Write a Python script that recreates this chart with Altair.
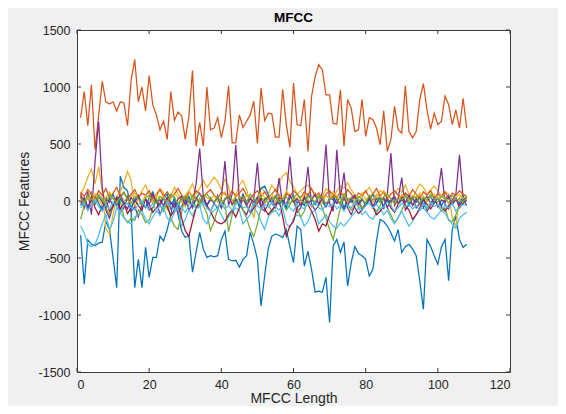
import altair as alt
import pandas as pd

# ---------------- data ----------------
s01 = [-300, -730, -340, -380, -390, -370, -360, -180, -250, -500, -760, 217,
       118, 90, -100, -760, -512, -760, -407, -670, -495, -495, -308, -350,
       -250, -120, 40, -120, -264, -320, -300, -625, -450, -275, -420, -495,
       -480, -490, -480, -337, -264, -512, -526, -520, -580, -512, -480, -275,
       -380, -512, -920, -658, -420, -308, -290, -300, -320, -250, -400, -540,
       -220, -250, -570, -440, -600, -800, -790, -800, -670, -1065, -395, -337,
       -452, -360, -745, -540, -400, -460, -480, -512, -658, -600, -350, -162,
       -180, -220, -280, -350, -250, -452, -400, -380, -420, -480, -700, -950,
       -337, -400, -480, -555, -400, -337, -700, -250, -133, -337, -408, -380]
s02 = [730, 960, 660, 1020, 450, 750, 1050, 870, 850, 870, 790, 870,
       860, 660, 1060, 1240, 870, 1000, 790, 1100, 845, 755, 625, 700,
       540, 960, 707, 780, 750, 540, 740, 1145, 480, 690, 480, 1000,
       625, 640, 730, 555, 700, 1010, 510, 510, 755, 645, 700, 755,
       875, 505, 990, 705, 770, 765, 560, 560, 980, 670, 470, 1035,
       670, 660, 890, 435, 917, 1090, 1195, 1150, 930, 930, 680, 675,
       975, 480, 890, 815, 610, 625, 890, 567, 730, 715, 640, 495,
       790, 435, 540, 830, 625, 596, 1010, 610, 555, 610, 890, 1030,
       800, 630, 770, 670, 700, 920, 845, 670, 800, 640, 900, 640]
s03 = [60, 120, 210, 280, 150, 300, 90, -240, -290, -120, 40, 80,
       160, 260, 180, -60, 20, 90, 140, 60, -20, 30, 110, 70,
       -80, 40, 120, 60, 10, -50, 90, 150, 60, 110, 180, 120,
       160, 210, 170, 100, 190, 130, -40, 50, 140, 180, 100, -20,
       -150, 30, 120, 80, 60, 140, 90, 160, 220, 250, 170, 130,
       60, 90, 120, 140, 100, 60, -30, 40, 110, 80, 20, 90,
       130, 110, 160, 100, 50, -60, 40, 80, 120, 60, 30, 90,
       70, 20, -40, 60, 110, 80, 140, 60, 20, 90, 150, 120,
       60, 100, 130, 90, 40, 80, 60, -150, -220, 30, 60, 40]
s04 = [40, -60, 80, -120, 350, 700, 120, -80, -150, -40, 20, -100,
       -60, 30, -90, -50, -140, -30, 20, -80, -60, 10, -120, -40,
       30, -70, -20, -110, -50, 20, -80, -30, 150, 460, 40, -60,
       -90, -20, -70, 20, 350, -40, 60, 490, 10, -80, -120, -30,
       20, 335, -60, -90, -20, 30, -50, 200, -40, 60, 390, 10,
       -100, -60, 20, 300, -30, -80, -40, 80, 495, -20, -90, 450,
       30, 250, -60, -120, -40, 20, -80, -30, 40, -60, -20, 50,
       -70, 60, 420, -40, 20, 205, -80, -30, 40, -60, -20, 30,
       -90, -40, 20, 60, 290, -30, -70, 10, 60, 405, 20, -40]
s05 = [-160, -40, 30, 80, -20, 60, 20, -60, -120, -30, 40, 0,
       -140, -190, -150, -170, -80, -120, -190, -170, -60, 20, -40, -90,
       -10, -150, -220, -250, -100, 40, -20, 30, -60, 20, -40, -110,
       -260, -180, -70, 10, -30, -270, -120, 20, -40, -80, -150, -250,
       -310, -200, -60, 30, -20, -100, -40, 50, -10, -80, -30, 20,
       -60, -140, -90, 10, -50, -20, 40, -70, -150, -250, -340, -200,
       -60, 20, -30, -80, -40, 10, -60, -20, 30, -50, -90, -40,
       20, -60, -120, -190, -150, -80, -20, 30, -40, -10, 50, -30,
       -70, -20, 20, -40, -90, -60, -170, -180, -120, -40, -20, 10]
s06 = [-220, -280, -380, -400, -380, -300, -200, -120, -250, -180, -60, -100,
       -150, -180, -200, -140, -120, -80, -160, -200, -140, -90, -120, -60,
       -150, -180, -100, -60, -220, -160, -80, -130, -60, -40, -160, -200,
       -120, -80, -60, -120, -180, -140, -100, -60, -80, -200, -160, -120,
       -60, -100, -180, -250, -140, -100, -80, -130, -60, -200, -230, -150,
       -120, -140, -220, -180, -100, -80, -200, -160, -120, -180, -220, -240,
       -190, -220, -180, -140, -100, -60, -120, -90, -140, -160, -100, -60,
       -120, -80, -150, -200, -140, -90, -160, -220, -180, -120, -80, -60,
       -100, -140, -160, -120, -80, -110, -160, -200, -240, -150, -120, -100]
s07 = [60, -20, -80, 40, -60, -120, -40, 20, -90, -50, 30, -70,
       -20, -110, -60, 10, -40, -80, 20, -30, -100, -60, -20, 40,
       -50, -130, -80, -20, -150, -260, -310, -180, -60, -20, 30, -40,
       -90, -160, -190, -200, -180, -120, -80, -140, -60, 20, -40, -100,
       -60, -20, 30, -70, -120, -80, -40, 10, -135, -310, -220, -180,
       -60, -20, 40, -30, -90, -160, -265, -200, -220, -120, -40, 20,
       -30, -70, -20, 30, -60, -110, -80, -30, 20, -50, -120, -90,
       -40, 10, -60, -100, -30, 20, -40, -80, -160, -120, -60, 10,
       -30, -70, -20, 30, -50, -90, -40, -10, 30, -60, -20, 10]
s08 = [-40, 20, -60, 10, 50, -20, -80, 30, -10, 60, -40, 20,
       -30, 40, -70, 10, 50, -20, -60, 30, 80, -10, -40, 20,
       60, -30, 10, -50, 30, -20, 40, -60, 20, 70, -10, -40,
       30, -20, 50, -60, 10, 40, -30, 20, -50, 60, -10, 30,
       -40, 20, 110, 130, 60, -20, 40, -30, 10, -60, 30, 50,
       -20, 10, -40, 60, 20, -30, 40, -10, -50, 30, 10, -20,
       40, -60, 20, -10, 50, -30, 20, -40, 10, 60, -20, 30,
       -50, 20, -10, 40, -30, 10, 60, -40, 20, -10, 30, -60,
       10, 40, -20, 30, -40, 20, 50, -30, 10, -20, 40, 0]
s09 = [80, 40, 100, 60, 20, 90, 50, 110, 30, 70, 120, 40,
       80, 20, 60, 100, 30, 70, 50, 90, 20, 60, 100, 40,
       80, 30, 60, 110, 50, 20, 80, 40, 90, 60, 30, 70,
       100, 50, 20, 80, 60, 30, 90, 40, 70, 110, 50, 20,
       60, 90, 40, 80, 30, 60, 100, 50, 20, 70, 40, 90,
       60, 30, 80, 50, 110, 40, 70, 20, 60, 90, 50, 30,
       80, 40, 100, 60, 20, 70, 50, 90, 30, 60, 110, 40,
       80, 20, 60, 90, 50, 30, 70, 40, 100, 60, 20, 80,
       50, 90, 30, 60, 40, 80, 20, 70, 50, 90, 60, 40]
s10 = [20, -30, 40, -10, 60, 10, -40, 30, 80, 20, -20, 50,
       10, -30, 40, 70, 20, -10, 50, 30, -20, 60, 10, 40,
       -30, 20, 70, 30, -10, 50, 90, 20, 40, -20, 60, 30,
       10, 50, -10, 40, 80, 20, -30, 60, 30, 10, 50, 20,
       -20, 40, 70, 30, 10, 60, -10, 40, 20, 90, 50, 10,
       30, -20, 60, 40, 20, 70, 30, -10, 50, 20, 80, 40,
       10, 60, -20, 30, 50, 20, 70, 10, 40, -10, 60, 30,
       90, 50, 20, 40, -30, 60, 30, 10, 50, 20, 70, 40,
       -10, 30, 60, 20, 50, 10, 40, -20, 30, 60, 20, 40]
s11 = [-20, 30, -50, 10, -30, 40, -10, -60, 20, -40, 10, 50,
       -20, -70, 30, -10, 40, -50, 20, -30, 60, -20, 10, -40,
       30, -10, -60, 20, 40, -30, 10, -50, 30, -20, 50, -40,
       10, -10, 30, -60, 20, 40, -30, 10, -20, 50, -40, 20,
       -10, 30, -50, 10, 40, -20, -60, 30, 10, -30, 50, -10,
       20, -40, 30, -20, 10, 60, -30, 20, -50, 10, 40, -20,
       -10, 30, -40, 20, 50, -30, 10, -20, 40, -50, 20, -10,
       30, -60, 10, 40, -20, 30, -10, 50, -40, 20, -30, 10,
       40, -20, 30, -50, 10, -10, 40, -30, 20, -40, 10, 30]
s12 = [30, -10, 50, 20, -20, 40, 10, -30, 60, 20, -10, 30,
       70, 10, -20, 40, 20, -40, 30, 50, 10, -20, 40, 20,
       -10, 60, 30, -30, 20, 40, -10, 50, 10, -20, 30, 60,
       20, -10, 40, -30, 20, 50, 10, -20, 30, 40, -10, 60,
       20, 0, 40, -20, 30, 10, 50, -10, 20, 40, -30, 30,
       60, 10, -20, 40, 20, -10, 50, 30, -20, 10, 40, 20,
       -30, 60, 10, 30, -10, 40, 20, -20, 50, 10, 30, -10,
       40, 60, 20, -20, 30, 10, 50, -10, 20, 40, -20, 30,
       10, 60, 20, -10, 40, 30, -20, 50, 10, 20, -10, 30]
s13 = [-60, -20, -80, -40, 10, -50, -90, -30, -70, -10, -50, -100,
       -40, -20, -60, -80, -30, 0, -50, -70, -20, -90, -40, -60,
       -10, -50, -80, -30, -60, -100, -40, -20, -70, -50, -10, -60,
       -90, -30, -50, -20, -70, -40, -80, -30, -10, -60, -50, -90,
       -20, -40, -70, -30, -60, -10, -50, -80, -40, -20, -60, -90,
       -30, -50, -70, -20, -40, -10, -60, -80, -30, -50, -20, -70,
       -40, -90, -30, -60, -10, -50, -80, -40, -20, -60, -30, -70,
       -50, -10, -40, -90, -60, -20, -50, -30, -70, -40, -80, -20,
       -60, -10, -50, -30, -70, -40, -60, -20, -90, -50, -30, -40]

series_values = [s01, s02, s03, s04, s05, s06, s07, s08, s09, s10, s11, s12, s13]
matlab_colors = ["#0072BD", "#D95319", "#EDB120", "#7E2F8E", "#77AC30", "#4DBEEE", "#A2142F"]
x_ticks = [0, 20, 40, 60, 80, 100, 120]
y_ticks = [-1500, -1000, -500, 0, 500, 1000, 1500]

# ---------------- build tables ----------------
names = [f"c{k + 1:02d}" for k in range(len(series_values))]
rows = []
for name, vals in zip(names, series_values):
    for i, v in enumerate(vals):
        rows.append({"series": name, "x": i + 1, "y": v})
df = pd.DataFrame(rows)
colors = [matlab_colors[k % len(matlab_colors)] for k in range(len(names))]

xt = pd.DataFrame({"x": x_ticks})
yt = pd.DataFrame({"y": y_ticks})

W, H = 433, 342
FONT = "Liberation Sans"
INK = "#262626"

x_scale = alt.Scale(domain=[0, 120], nice=False, zero=False)
y_scale = alt.Scale(domain=[-1500, 1500], nice=False, zero=False)

lines = alt.Chart(df).mark_line(strokeWidth=1.25, clip=True).encode(
    x=alt.X("x:Q", scale=x_scale,
            axis=alt.Axis(values=x_ticks, title="MFCC Length", labelPadding=6,
                          titlePadding=1, labelExpr="'' + datum.value")),
    y=alt.Y("y:Q", scale=y_scale,
            axis=alt.Axis(values=y_ticks, title="MFCC Features", labelPadding=7,
                          titlePadding=7, labelExpr="'' + datum.value")),
    color=alt.Color("series:N", scale=alt.Scale(domain=names, range=colors), legend=None),
)

tick_color = "#3a3a3a"
tick_bottom = alt.Chart(xt).mark_rule(color=tick_color, strokeWidth=1).encode(
    x=alt.X("x:Q", scale=x_scale), y=alt.value(H), y2=alt.value(H - 4))
tick_top = alt.Chart(xt).mark_rule(color=tick_color, strokeWidth=1).encode(
    x=alt.X("x:Q", scale=x_scale), y=alt.value(0), y2=alt.value(4))
tick_left = alt.Chart(yt).mark_rule(color=tick_color, strokeWidth=1).encode(
    y=alt.Y("y:Q", scale=y_scale), x=alt.value(0), x2=alt.value(4))
tick_right = alt.Chart(yt).mark_rule(color=tick_color, strokeWidth=1).encode(
    y=alt.Y("y:Q", scale=y_scale), x=alt.value(W), x2=alt.value(W - 4))

chart = alt.layer(lines, tick_bottom, tick_top, tick_left, tick_right).properties(
    width=W,
    height=H,
    title=alt.TitleParams("MFCC", fontSize=13.5, fontWeight="bold", font=FONT,
                          color="#000000", anchor="middle", offset=0),
    background="#f0f0f0",
    padding={"left": 69, "top": 22, "right": 48, "bottom": 34},
    autosize=alt.AutoSizeParams(type="none"),
).configure_view(
    stroke="#3a3a3a", strokeWidth=1, fill="#ffffff"
).configure_axis(
    grid=False, ticks=False, domain=False,
    labelFont=FONT, labelFontSize=12.5, labelColor=INK,
    titleFont=FONT, titleFontSize=14, titleFontWeight="normal", titleColor=INK,
)

chart.save("out.html", embed_options={"renderer": "svg", "actions": False})
